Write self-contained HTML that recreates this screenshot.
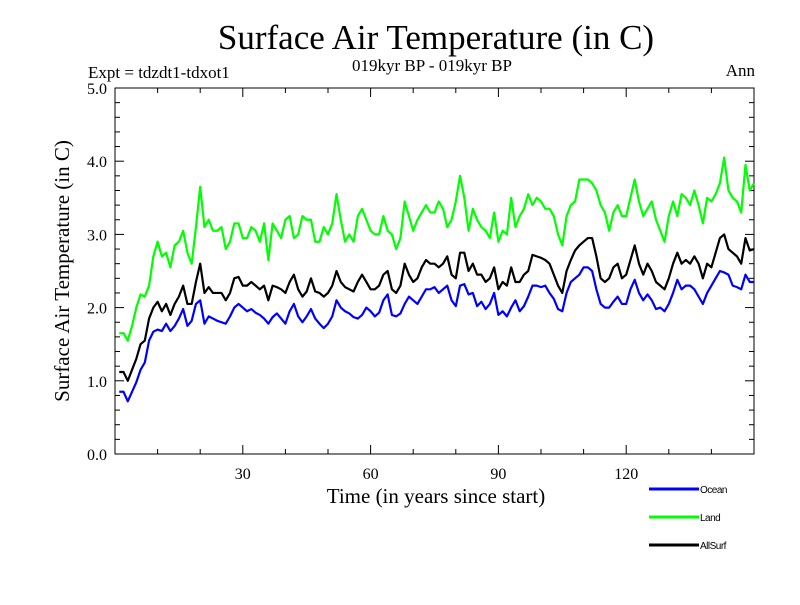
<!DOCTYPE html>
<html><head><meta charset="utf-8"><style>
body{margin:0;background:#fff;}
svg text{font-family:"Liberation Serif",serif;fill:#000;}
</style></head><body>
<svg id="chart" width="800" height="600" xmlns="http://www.w3.org/2000/svg">
<text x="436" y="49" font-size="35" text-anchor="middle">Surface Air Temperature (in C)</text>
<text x="432" y="71" font-size="17" text-anchor="middle">019kyr BP - 019kyr BP</text>
<text x="88" y="78" font-size="17">Expt = tdzdt1-tdxot1</text>
<text x="755" y="76" font-size="17" text-anchor="end">Ann</text>
<text transform="translate(69,271) rotate(-90)" font-size="21" text-anchor="middle">Surface Air Temperature (in C)</text>
<text x="436" y="503" font-size="21" text-anchor="middle">Time (in years since start)</text>
<g id="axes"></g>
<g id="series"></g>
<g id="legend"></g>
</svg>
<script>
const xTickVals=[30,60,90,120];
const yTickVals=[0,1,2,3,4,5];
const yTickLabels=["0.0","1.0","2.0","3.0","4.0","5.0"];
const seriesNames=["Ocean","Land","AllSurf"];
const ocean=[0.85,0.85,0.72,0.85,0.98,1.15,1.25,1.55,1.67,1.7,1.68,1.78,1.68,1.75,1.85,1.98,1.75,1.82,2.05,2.1,1.78,1.88,1.85,1.82,1.8,1.78,1.88,2.0,2.05,2.0,1.95,1.98,1.93,1.9,1.85,1.78,1.87,1.92,1.85,1.78,1.95,2.05,1.88,1.8,1.88,1.98,1.85,1.78,1.72,1.78,1.88,2.1,2.0,1.95,1.92,1.87,1.85,1.9,2.0,1.95,1.88,1.93,2.1,2.18,1.9,1.88,1.92,2.05,2.15,2.1,2.05,2.15,2.25,2.25,2.28,2.2,2.25,2.3,2.1,2.02,2.3,2.32,2.18,2.2,2.02,2.08,1.98,2.05,2.2,1.9,1.95,1.88,2.0,2.1,1.95,2.02,2.15,2.3,2.3,2.28,2.3,2.2,2.12,1.98,1.95,2.2,2.35,2.4,2.45,2.55,2.55,2.5,2.25,2.05,2.0,2.0,2.08,2.15,2.05,2.05,2.25,2.38,2.2,2.1,2.18,2.1,1.98,2.0,1.95,2.05,2.2,2.38,2.25,2.3,2.3,2.25,2.15,2.05,2.2,2.3,2.4,2.5,2.48,2.45,2.3,2.28,2.25,2.45,2.35,2.35];
const land=[1.65,1.65,1.55,1.75,2.0,2.18,2.15,2.3,2.7,2.9,2.7,2.75,2.55,2.85,2.9,3.05,2.75,2.6,3.1,3.65,3.1,3.2,3.05,3.05,3.1,2.8,2.9,3.15,3.15,2.95,2.95,3.1,3.05,2.9,3.15,2.65,3.15,3.05,2.95,3.2,3.25,2.95,3.0,3.25,3.2,3.2,2.9,2.9,3.1,3.0,3.15,3.55,3.2,2.9,3.0,2.9,3.25,3.35,3.2,3.05,3.0,3.0,3.25,3.05,3.0,2.8,2.95,3.45,3.25,3.05,3.2,3.3,3.4,3.3,3.3,3.45,3.35,3.1,3.2,3.45,3.8,3.5,3.05,3.35,3.2,3.1,3.05,2.95,3.3,2.9,3.05,3.0,3.5,3.1,3.25,3.35,3.55,3.4,3.5,3.45,3.35,3.35,3.25,3.0,2.85,3.25,3.4,3.45,3.75,3.75,3.75,3.7,3.6,3.4,3.3,3.05,3.3,3.4,3.25,3.25,3.5,3.75,3.45,3.25,3.35,3.45,3.2,3.05,2.9,3.25,3.45,3.25,3.55,3.5,3.4,3.6,3.4,3.15,3.5,3.45,3.55,3.7,4.05,3.6,3.5,3.45,3.3,3.95,3.6,3.7];
const allSurf=[1.12,1.12,1.0,1.15,1.3,1.5,1.55,1.85,2.0,2.08,1.95,2.05,1.9,2.05,2.15,2.3,2.05,2.05,2.35,2.6,2.2,2.28,2.2,2.2,2.2,2.1,2.2,2.4,2.42,2.3,2.3,2.35,2.3,2.25,2.3,2.1,2.3,2.28,2.25,2.2,2.35,2.45,2.25,2.15,2.22,2.4,2.22,2.2,2.15,2.2,2.3,2.5,2.35,2.28,2.25,2.22,2.35,2.45,2.35,2.25,2.25,2.3,2.45,2.5,2.25,2.2,2.3,2.6,2.45,2.35,2.4,2.55,2.65,2.6,2.6,2.55,2.6,2.7,2.45,2.4,2.75,2.75,2.5,2.6,2.45,2.45,2.35,2.4,2.55,2.25,2.35,2.3,2.55,2.35,2.35,2.45,2.5,2.72,2.7,2.68,2.65,2.6,2.45,2.3,2.2,2.5,2.65,2.78,2.85,2.9,2.95,2.95,2.7,2.4,2.35,2.4,2.55,2.6,2.4,2.45,2.65,2.85,2.6,2.45,2.6,2.5,2.35,2.3,2.25,2.4,2.6,2.75,2.6,2.65,2.6,2.7,2.6,2.4,2.6,2.55,2.75,2.95,3.0,2.8,2.75,2.7,2.6,2.95,2.78,2.8];

const NS="http://www.w3.org/2000/svg";
const L=115,R=754,T=88,B=454,X0=0,X1=150,Y0=0,Y1=5;
function sx(v){return L+(v-X0)/(X1-X0)*(R-L);}
function sy(v){return B-(v-Y0)/(Y1-Y0)*(B-T);}
function mk(tag,attrs,parent){const e=document.createElementNS(NS,tag);for(const k in attrs)e.setAttribute(k,attrs[k]);parent.appendChild(e);return e;}
const axes=document.getElementById('axes');
const frame=mk('rect',{x:L,y:T,width:R-L,height:B-T,fill:'none',stroke:'#000','stroke-width':1},axes);


for(let v=10;v<X1;v+=10){
  const major=xTickVals.indexOf(v)>=0;
  const len=major?9:5;
  const t=mk('line',{x1:sx(v),x2:sx(v),y1:B,y2:B-len,stroke:'#000'},axes);
  
  
  const t2=mk('line',{x1:sx(v),x2:sx(v),y1:T,y2:T+len,stroke:'#000'},axes);
  
  
}
xTickVals.forEach(v=>{
  const tx=mk('text',{x:sx(v),y:B+25,'font-size':16,'text-anchor':'middle'},axes);
  tx.textContent=String(v);
  
  
});
for(let i=1;i<25;i++){
  const v=i*0.2;const major=i%5===0;const len=major?9:5;
  const t=mk('line',{x1:L,x2:L+len,y1:sy(v),y2:sy(v),stroke:'#000'},axes);
  
  
  const t2=mk('line',{x1:R,x2:R-len,y1:sy(v),y2:sy(v),stroke:'#000'},axes);
  
  
}
yTickVals.forEach((v,i)=>{
  const tx=mk('text',{x:L-8,y:sy(v)+6,'font-size':16,'text-anchor':'end'},axes);
  tx.textContent=yTickLabels[i];
  
  
});
const sg=document.getElementById('series');
const data=[ocean,land,allSurf];
const colors=['#0000ff','#00ff00','#000000'];
const order=[1,2,0];
order.forEach(k=>{
  const pts=data[k].map((v,i)=>sx(i+1)+','+sy(v)).join(' ');
  const p=mk('polyline',{points:pts,fill:'none',stroke:colors[k],'stroke-width':2.2,'stroke-linejoin':'round'},sg);
  
  
});
const lg=document.getElementById('legend');
seriesNames.forEach((n,i)=>{
  const y=489+i*28;
  const ln=mk('line',{x1:649,x2:699,y1:y,y2:y,stroke:colors[i],'stroke-width':3},lg);
  
  
  const tx=mk('text',{x:700,y:y+4,'font-size':10},lg);
  tx.setAttribute('style','font-family:"Liberation Sans",sans-serif;letter-spacing:-0.5px');
  tx.textContent=n;
  
  
});
</script>
</body></html>
